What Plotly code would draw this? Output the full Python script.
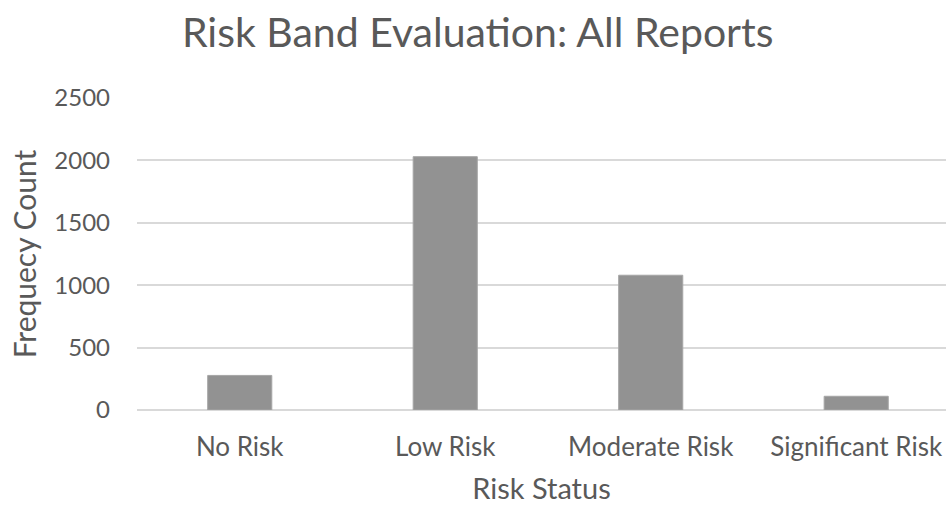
import plotly.graph_objects as go

categories = ["No Risk", "Low Risk", "Moderate Risk", "Significant Risk"]
counts = [277, 2030, 1080, 110]
y_ticks = [0, 500, 1000, 1500, 2000, 2500]

FONT = "Lato, 'Open Sans', sans-serif"
TXT = "#595959"

fig = go.Figure(
    go.Bar(
        x=categories,
        y=counts,
        marker=dict(color="#929292", line=dict(color="#a6a6a6", width=1)),
    )
)

fig.update_layout(
    width=946,
    height=505,
    paper_bgcolor="white",
    plot_bgcolor="white",
    margin=dict(l=137, r=0, t=98, b=95),
    bargap=0.688,
    showlegend=False,
    font=dict(family=FONT, color=TXT),
    title=dict(
        text="Risk Band Evaluation: All Reports",
        x=0.505,
        xanchor="center",
        y=0.935,
        yanchor="middle",
        font=dict(size=41, color=TXT, family=FONT),
    ),
)

fig.update_xaxes(
    range=[-0.5, 3.437],
    showgrid=False,
    showline=False,
    zeroline=False,
    automargin=False,
    tickfont=dict(size=26, color=TXT),
    ticklabelstandoff=19,
    title=dict(text="Risk Status", font=dict(size=29, color=TXT), standoff=25),
)

fig.update_yaxes(
    range=[0, 2500],
    tickvals=y_ticks,
    showgrid=True,
    gridcolor="#d9d9d9",
    gridwidth=1.5,
    zeroline=True,
    zerolinecolor="#d9d9d9",
    zerolinewidth=1.5,
    showline=False,
    automargin=False,
    tickfont=dict(size=24, color=TXT),
    ticklabelstandoff=26,
    title=dict(text="Frequecy Count", font=dict(size=30, color=TXT), standoff=8),
)

fig.write_html(
    "out.html",
    config={"displayModeBar": False},
    post_script="document.body.style.margin='0';document.body.style.overflow='hidden';",
)
